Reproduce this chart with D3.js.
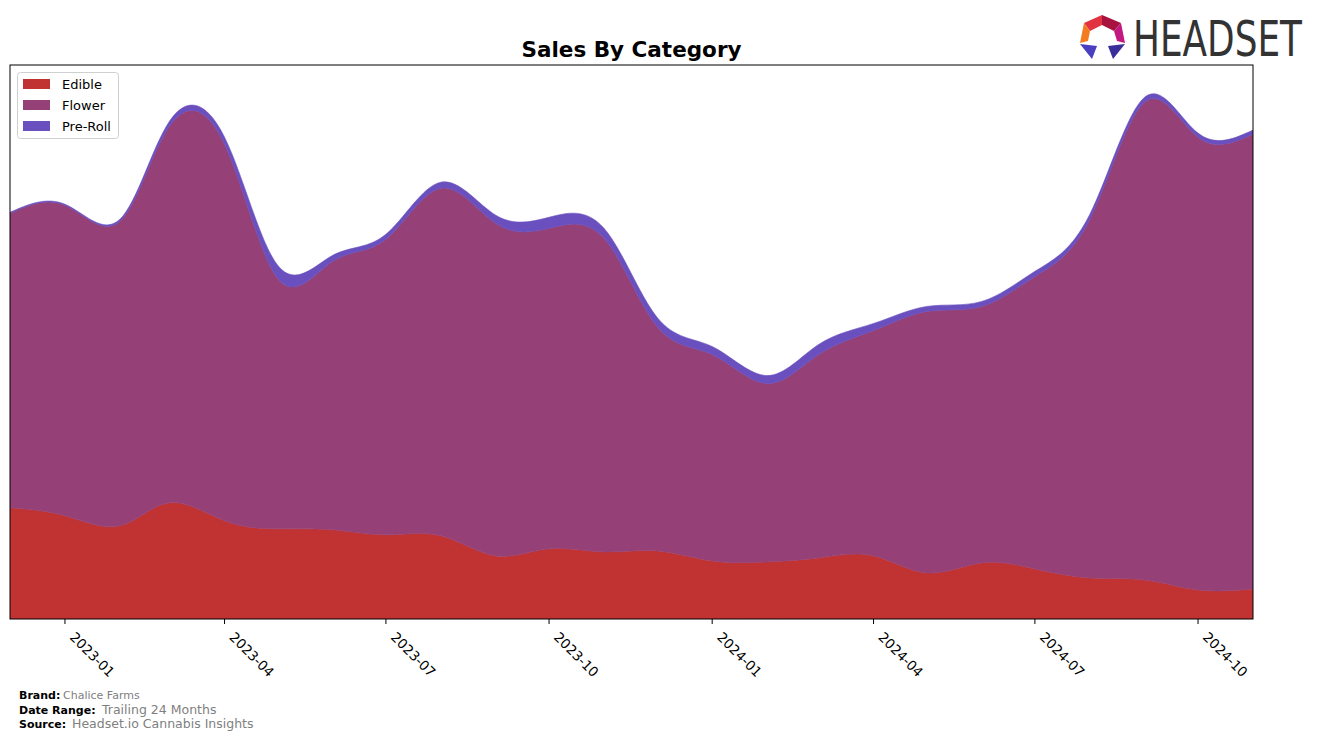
<html lang="en">
<head>
<meta charset="UTF-8">
<title>Sales By Category</title>
<style>
  body { margin: 0; background: #fff; font-family: "DejaVu Sans", sans-serif; }
  svg text { font-family: "DejaVu Sans", sans-serif; }
</style>
</head>
<body>
<div id="chart"></div>
<script src="https://d3js.org/d3.v7.min.js"></script>
<script>
// monthly data, Dec 2022 .. Nov 2024
const months = ["2022-12", "2023-01", "2023-02", "2023-03", "2023-04", "2023-05", "2023-06", "2023-07",
  "2023-08", "2023-09", "2023-10", "2023-11", "2023-12", "2024-01", "2024-02", "2024-03",
  "2024-04", "2024-05", "2024-06", "2024-07", "2024-08", "2024-09", "2024-10", "2024-11"];
const edible = [11100, 10300, 9300, 11600, 9800, 9000, 8900, 8400, 8300, 6300, 7000, 6700,
  6800, 5800, 5700, 6100, 6300, 4600, 5600, 5000, 4100, 3900, 2900, 3000];
const flower = [29400, 31000, 30400, 37600, 37600, 25000, 26800, 29500, 34700, 33200, 32000, 31300,
  22400, 20600, 17800, 20300, 22500, 26100, 25600, 29200, 35800, 47700, 45200, 45400];
const preRoll = [100, 100, 200, 500, 700, 1300, 600, 500, 600, 800, 1100, 1000,
  900, 800, 800, 1000, 700, 500, 500, 500, 500, 500, 400, 400];
const categories = ["Edible", "Flower", "Pre-Roll"];
const colors = ["#c13333", "#954177", "#6a4fbe"];
// top of the value axis (smoothed peak plus 5% headroom)
const yMax = 55300;

const W = 1317, H = 741;
const plot = { left: 10, top: 65, right: 1253, bottom: 619 };

const parse = d3.timeParse("%Y-%m");
const rows = months.map((m, i) => ({
  date: parse(m), "Edible": edible[i], "Flower": flower[i], "Pre-Roll": preRoll[i]
}));

const svg = d3.select("#chart").append("svg")
  .attr("width", W).attr("height", H);

const x = d3.scaleTime()
  .domain(d3.extent(rows, d => d.date))
  .range([plot.left, plot.right]);

const stacked = d3.stack().keys(categories)(rows);
const y = d3.scaleLinear()
  .domain([0, yMax])
  .range([plot.bottom, plot.top]);

svg.append("clipPath").attr("id", "clip")
  .append("rect")
  .attr("x", plot.left).attr("y", plot.top)
  .attr("width", plot.right - plot.left).attr("height", plot.bottom - plot.top);

const area = d3.area()
  .x(d => x(d.data.date))
  .y0(d => y(d[0]))
  .y1(d => y(d[1]))
  .curve(d3.curveNatural);

svg.append("g").attr("clip-path", "url(#clip)")
  .selectAll("path")
  .data(stacked)
  .enter().append("path")
  .attr("d", area)
  .attr("fill", (d, i) => colors[i])
  .attr("stroke", (d, i) => colors[i])
  .attr("stroke-width", 0.6);

// frame
svg.append("rect")
  .attr("x", plot.left).attr("y", plot.top)
  .attr("width", plot.right - plot.left).attr("height", plot.bottom - plot.top)
  .attr("fill", "none").attr("stroke", "#000").attr("stroke-width", 1);

// x axis
const ticks = x.ticks(d3.timeMonth.every(3)).filter(d => d.getMonth() % 3 === 0);
const fmt = d3.timeFormat("%Y-%m");
const xAxis = svg.append("g");
xAxis.selectAll("line").data(ticks).enter().append("line")
  .attr("x1", d => x(d)).attr("x2", d => x(d))
  .attr("y1", plot.bottom).attr("y2", plot.bottom + 5)
  .attr("stroke", "#000").attr("stroke-width", 1);
xAxis.selectAll("text").data(ticks).enter().append("text")
  .attr("transform", d => `translate(${x(d) + 4},${plot.bottom + 19}) rotate(45)`)
  .attr("font-size", 13.5)
  .attr("fill", "#000")
  .text(d => fmt(d));

// title
svg.append("text")
  .attr("x", (plot.left + plot.right) / 2).attr("y", 57)
  .attr("text-anchor", "middle")
  .attr("font-size", 21.5).attr("font-weight", "bold")
  .text("Sales By Category");

// legend
const lg = svg.append("g");
lg.append("rect")
  .attr("x", 17.5).attr("y", 72.5).attr("width", 101).attr("height", 66)
  .attr("rx", 3).attr("fill", "#fff").attr("fill-opacity", 0.8)
  .attr("stroke", "#d0d0d0");
categories.forEach((c, i) => {
  lg.append("rect")
    .attr("x", 23).attr("y", 79 + i * 21).attr("width", 27).attr("height", 10)
    .attr("fill", colors[i]);
  lg.append("text")
    .attr("x", 62).attr("y", 89 + i * 21)
    .attr("font-size", 13).text(c);
});

// footer
const footer = [
  { label: "Brand:", value: "Chalice Farms", y: 699, vx: 63, vs: 11 },
  { label: "Date Range:", value: "Trailing 24 Months", y: 714, vx: 102, vs: 12.5 },
  { label: "Source:", value: "Headset.io Cannabis Insights", y: 728, vx: 72, vs: 12.5 }
];
footer.forEach(f => {
  svg.append("text").attr("x", 19).attr("y", f.y)
    .attr("font-size", 11).attr("font-weight", "bold").text(f.label);
  svg.append("text").attr("x", f.vx).attr("y", f.y)
    .attr("font-size", f.vs).attr("fill", "#808080").text(f.value);
});

// logo
const logo = svg.append("g");
const pieces = [
  { p: [[1102, 15], [1084, 23], [1090, 31], [1102, 25]], c: "#e23340" },
  { p: [[1102, 15], [1121, 23], [1114, 31], [1102, 25]], c: "#a8123e" },
  { p: [[1084, 23], [1080, 43], [1088, 41], [1090, 31]], c: "#f47b20" },
  { p: [[1121, 23], [1125, 43], [1117, 41], [1114, 31]], c: "#c2187f" },
  { p: [[1080, 44], [1097, 46], [1092, 59]], c: "#4a3fc0" },
  { p: [[1108, 46], [1125, 44], [1113, 59]], c: "#3a2f9a" }
];
pieces.forEach(pc => {
  logo.append("polygon")
    .attr("points", pc.p.map(q => q.join(",")).join(" "))
    .attr("fill", pc.c);
});
const word = logo.append("text")
  .attr("font-family", "'Open Sans', sans-serif")
  .attr("font-size", 50)
  .attr("fill", "#333")
  .text("HEADSET");
const natural = word.node().getComputedTextLength();
word.attr("transform", `translate(1133,56) scale(${169 / natural},1)`);
</script>
</body>
</html>
